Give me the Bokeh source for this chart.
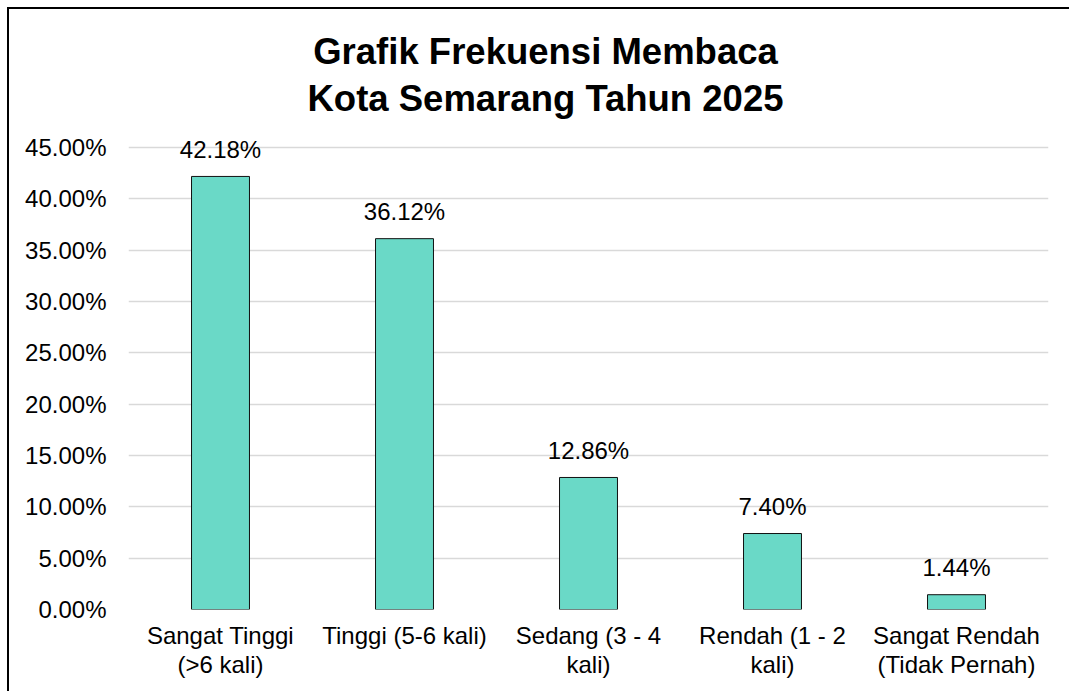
from bokeh.plotting import figure
from bokeh.models import Range1d, FixedTicker, Label, ColumnDataSource
from bokeh.embed import file_html
from bokeh.resources import INLINE
from bokeh.core.properties import value

# ---- data ----
categories = ["Sangat Tinggi\n(>6 kali)", "Tinggi (5-6 kali)", "Sedang (3 - 4\nkali)",
              "Rendah (1 - 2\nkali)", "Sangat Rendah\n(Tidak Pernah)"]
percentages = [42.18, 36.12, 12.86, 7.40, 1.44]
y_ticks = [0, 5, 10, 15, 20, 25, 30, 35, 40, 45]
title_lines = ["Grafik Frekuensi Membaca", "Kota Semarang Tahun 2025"]

FONT = "Liberation Sans"
FRAME_W = 920
FRAME_H = 593
PX_PER_UNIT = 462 / 45.0
Y_END = FRAME_H / PX_PER_UNIT

xs = list(range(1, len(categories) + 1))
src = ColumnDataSource(dict(
    x=xs,
    top=percentages,
    label=["%.2f%%" % v for v in percentages],
))

p = figure(
    output_backend="svg", toolbar_location=None,
    frame_width=FRAME_W, frame_height=FRAME_H,
    min_border_left=119, min_border_right=21, min_border_top=7, min_border_bottom=82,
    x_range=Range1d(0.5, len(categories) + 0.5),
    y_range=Range1d(0, Y_END),
    margin=(7, 0, 0, 7),
    styles={"border-style": "solid none none solid", "border-width": "2px",
            "border-color": "black"},
)
p.outline_line_color = None
p.background_fill_color = "white"
p.border_fill_color = "white"

# gridlines
p.xgrid.grid_line_color = None
p.ygrid.grid_line_color = "#d9d9d9"
p.ygrid.grid_line_width = 1.3
p.yaxis.ticker = FixedTicker(ticks=y_ticks)
p.xaxis.ticker = FixedTicker(ticks=xs)

# bars
p.vbar(x="x", top="top", width=0.315, bottom=0, source=src,
       fill_color="#6AD9C7", line_color="#111111", line_width=1)

# value labels
p.text(x="x", y="top", text="label", source=src,
       text_font=value(FONT), text_font_size="24px", text_color="#000000",
       text_align="center", text_baseline="alphabetic", y_offset=-27)

# y axis
p.yaxis.major_label_overrides = {t: "%.2f%%" % t for t in y_ticks}
p.yaxis.axis_line_color = None
p.yaxis.major_tick_line_color = None
p.yaxis.minor_tick_line_color = None
p.yaxis.major_label_standoff = 16
p.yaxis.major_label_text_font = FONT
p.yaxis.major_label_text_font_size = "24px"
p.yaxis.major_label_text_color = "#000000"

# x axis
p.xaxis.major_label_overrides = {x: c for x, c in zip(xs, categories)}
p.xaxis.axis_line_color = None
p.xaxis.major_tick_line_color = None
p.xaxis.minor_tick_line_color = None
p.xaxis.major_label_standoff = 6
p.xaxis.major_label_text_font = FONT
p.xaxis.major_label_text_font_size = "24px"
p.xaxis.major_label_text_line_height = 1.1
p.xaxis.major_label_text_color = "#000000"
p.xaxis.major_label_text_align = "center"

# title (two lines)
title_x = 0.5 + (545 - 128) / (FRAME_W / len(categories))
title_y = [(609 - 51) / PX_PER_UNIT, (609 - 98) / PX_PER_UNIT]
for line, ty in zip(title_lines, title_y):
    p.add_layout(Label(x=title_x, y=ty, text=line, text_font=FONT,
                       text_font_size="36.5px", text_font_style="bold",
                       text_color="#000000", text_align="center",
                       text_baseline="alphabetic"))

open("out.html", "w").write(file_html(p, INLINE))
